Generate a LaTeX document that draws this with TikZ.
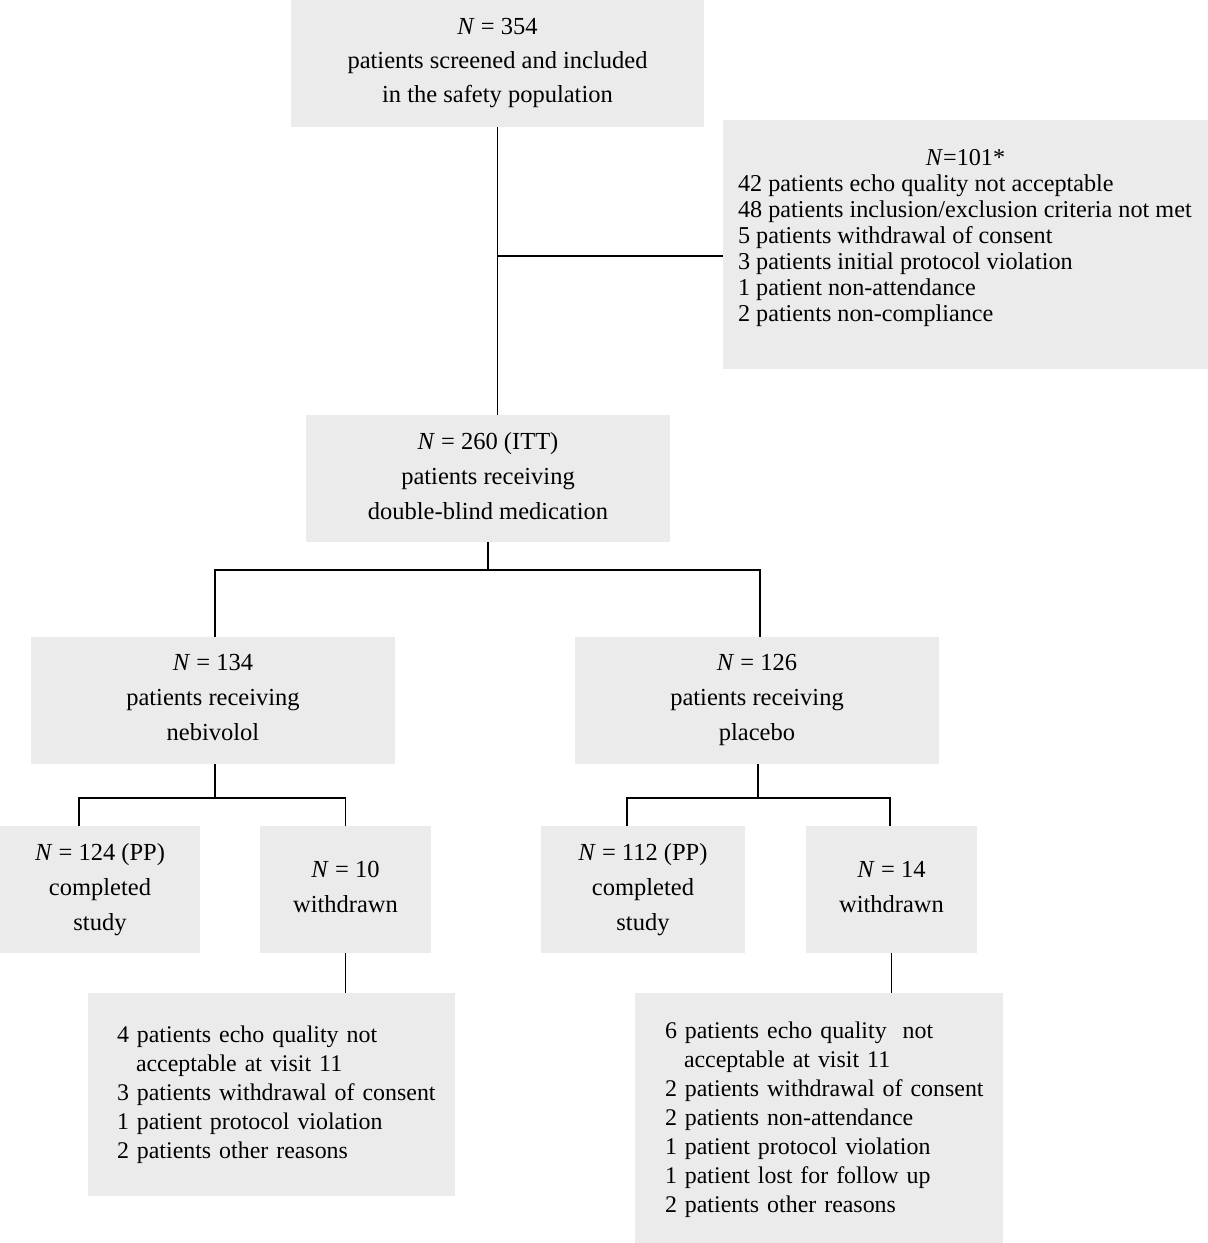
\documentclass[tikz,border=0pt]{standalone}
\usepackage{fontspec}
\setmainfont{Liberation Serif}
\definecolor{boxgray}{RGB}{235,235,236}
\newcommand{\topstrut}{\rule{0pt}{38pt}}
\newcommand{\botstrut}{\rule[-6pt]{0pt}{6pt}}
\tikzset{
  box/.style={fill=boxgray, draw=none, inner sep=0pt, align=center,
    font=\fontsize{24.5}{35}\selectfont,
    execute at begin node=\topstrut, execute at end node=\botstrut},
  listbox/.style={fill=boxgray, draw=none, inner ysep=0pt, align=left,
    font=\fontsize{23.9}{29}\selectfont,
    execute at begin node=\strut, execute at end node=\strut},
  plainbox/.style={fill=boxgray, draw=none, inner sep=0pt},
  conn/.style={draw=black, line width=1.8pt},
}
\newcommand{\ml}[1]{\mbox{#1}}
\begin{document}
\begin{tikzpicture}[x=1pt,y=-1pt]
\useasboundingbox (0,0) rectangle (1208,1243);
\node[box, minimum width=413, minimum height=127, font=\fontsize{24.5}{34}\selectfont] (top) at (497.5,63.5)
  {\textit{N} = 354\\patients screened and included\\in the safety population};
\node[plainbox, minimum width=485, minimum height=249,
  font=\fontsize{24.2}{26}\selectfont] (excl) at (965.5,244.5)
  {\parbox[c][249pt][t]{455pt}{\vspace*{27pt}%
   \strut\makebox[\linewidth]{\textit{N}=101*}\\
   \ml{42 patients echo quality not acceptable}\\
   \ml{48 patients inclusion/exclusion criteria not met}\\
   \ml{5 patients withdrawal of consent}\\
   \ml{3 patients initial protocol violation}\\
   \ml{1 patient non-attendance}\\
   \ml{2 patients non-compliance}}};
\node[box, minimum width=364, minimum height=127] (itt) at (488,478.5)
  {\textit{N} = 260 (ITT)\\patients receiving\\double-blind medication};
\node[box, minimum width=364, minimum height=127] (neb) at (213,700.5)
  {\textit{N} = 134\\patients receiving\\nebivolol};
\node[box, minimum width=364, minimum height=127] (plac) at (757,700.5)
  {\textit{N} = 126\\patients receiving\\placebo};
\node[box, minimum width=200, minimum height=127] (pp1) at (100,889.5)
  {\textit{N} = 124 (PP)\\completed\\study};
\node[box, minimum width=171, minimum height=127] (w1) at (345.5,889.5)
  {\textit{N} = 10\\withdrawn};
\node[box, minimum width=204, minimum height=127] (pp2) at (643,889.5)
  {\textit{N} = 112 (PP)\\completed\\study};
\node[box, minimum width=171, minimum height=127] (w2) at (891.5,889.5)
  {\textit{N} = 14\\withdrawn};
\node[listbox, minimum width=367, minimum height=203, inner xsep=29pt, text width=309pt] (l1) at (271.5,1094.5)
  {\ml{4 patients echo quality not}\\
   \ml{\hspace*{19pt}acceptable at visit 11}\\
   \ml{3 patients withdrawal of consent}\\
   \ml{1 patient protocol violation}\\
   \ml{2 patients other reasons}};
\node[listbox, minimum width=368, minimum height=250, inner xsep=30pt, text width=308pt,
  execute at begin node=\rule{0pt}{23pt}] (l2) at (819,1118)
  {\ml{6 patients echo quality~ not}\\
   \ml{\hspace*{19pt}acceptable at visit 11}\\
   \ml{2 patients withdrawal of consent}\\
   \ml{2 patients non-attendance}\\
   \ml{1 patient protocol violation}\\
   \ml{1 patient lost for follow up}\\
   \ml{2 patients other reasons}};
% connectors
\coordinate (j1) at (497,256);
\coordinate (b1) at (489,570);
\coordinate (b2) at (215,798);
\coordinate (b3) at (758,798);
\draw[conn] (top.south) -- (top.south |- itt.north);
\draw[conn] (j1) -- (j1 -| excl.west);
\draw[conn] (itt.south) -- (itt.south |- b1);
\draw[conn] ([xshift=2pt]neb.north) |- ([xshift=3pt]plac.north |- b1) -- ([xshift=3pt]plac.north);
\draw[conn] ([xshift=2pt]neb.south) -- ([xshift=2pt]neb.south |- b2);
\draw[conn] ([xshift=-21pt]pp1.north) |- (w1.north |- b2) -- (w1.north);
\draw[conn] ([xshift=1pt]plac.south) -- ([xshift=1pt]plac.south |- b3);
\draw[conn] ([xshift=-16pt]pp2.north) |- ([xshift=-1.5pt]w2.north |- b3) -- ([xshift=-1.5pt]w2.north);
\draw[conn] (w1.south) -- (w1.south |- l1.north);
\draw[conn] (w2.south) -- (w2.south |- l2.north);
\end{tikzpicture}
\end{document}
